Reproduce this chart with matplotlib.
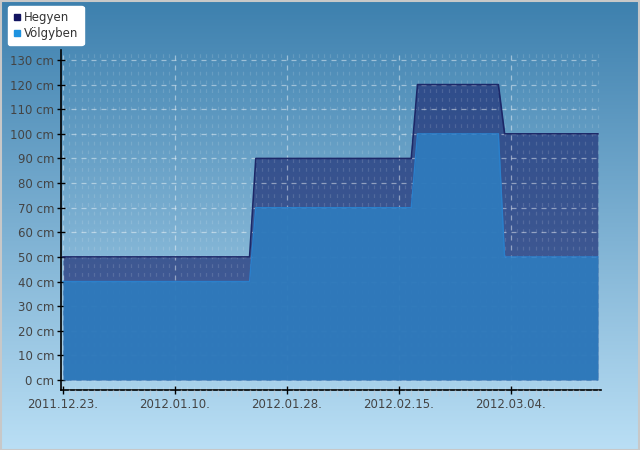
import matplotlib
matplotlib.use("Agg")
import matplotlib.pyplot as plt
import matplotlib.dates as mdates
import numpy as np
import pandas as pd
from matplotlib.patches import Rectangle
from matplotlib.lines import Line2D

# Data (corner points of the step series)
dates = pd.to_datetime(["2011-12-23", "2012-01-22", "2012-01-23", "2012-02-17",
                        "2012-02-18", "2012-03-02", "2012-03-03", "2012-03-18"])
hegyen = [50, 50, 90, 90, 120, 120, 100, 100]
volgyben = [40, 40, 70, 70, 100, 100, 50, 50]
series_names = ["Hegyen", "Völgyben"]
tick_dates = pd.to_datetime(["2011-12-23", "2012-01-10", "2012-01-28", "2012-02-15", "2012-03-04"])
y_ticks = list(range(0, 140, 10))

W, H = 640, 450
fig = plt.figure(figsize=(W / 100, H / 100), dpi=100)

# gradient background
bg = fig.add_axes([0, 0, 1, 1], zorder=-10)
top = np.array([0x3d, 0x80, 0xae]) / 255
bot = np.array([0xba, 0xdf, 0xf5]) / 255
t = np.linspace(0, 1, 256)[:, None]
grad = top[None, :] * (1 - t) + bot[None, :] * t
bg.imshow(grad[:, None, :].repeat(2, axis=1), aspect="auto", extent=[0, 1, 0, 1])
bg.set_axis_off()
bg.add_patch(Rectangle((0.0008, 0.001), 0.998, 0.997, transform=bg.transAxes,
                       fill=False, edgecolor="#c8c8c8", lw=1.5))

ax = fig.add_axes([61 / W, 60 / H, 540 / W, 340 / H])
ax.set_facecolor("none")

x0 = mdates.date2num(dates[0])
ax.set_xlim(x0 - 0.32, x0 + 86.5)
ax.set_ylim(-4.06, 134.06)

ax.fill_between(dates, 0, hegyen, color="#223378", alpha=0.72, lw=0, zorder=2)
ax.plot(dates, hegyen, color="#1c2868", lw=1.2, zorder=3)
ax.fill_between(dates, 0, volgyben, color="#2f7abc", alpha=0.97, lw=0, zorder=4)
ax.plot(dates, volgyben, color="#2a80cc", lw=1.0, zorder=5)

ax.set_yticks(y_ticks)
ax.set_yticklabels([f"{v} cm" for v in y_ticks])
ax.set_xticks(mdates.date2num(tick_dates))
ax.set_xticklabels([d.strftime("%Y.%m.%d.") for d in tick_dates])
ax.xaxis.set_minor_locator(mdates.DayLocator())

for s in ["top", "right"]:
    ax.spines[s].set_visible(False)
for s in ["left", "bottom"]:
    ax.spines[s].set_color("black")
    ax.spines[s].set_linewidth(1.2)

ax.tick_params(axis="both", which="major", direction="inout", length=6, width=1,
               color="black", labelcolor="#444444", labelsize=8.5)
ax.tick_params(axis="x", which="minor", direction="out", length=4, width=1,
               color="#b8cfe0")
ax.tick_params(axis="y", pad=2)
ax.tick_params(axis="x", pad=3)

ax.grid(True, which="major", color="white", alpha=0.45, lw=0.9, ls=(0, (4, 4)), zorder=6)
ax.grid(True, which="minor", axis="x", color="white", alpha=0.13, lw=0.9, ls=(0, (3, 4)), zorder=6)
ax.set_axisbelow(False)

# legend
handles = [Line2D([], [], marker="s", ls="none", color="#121460", markersize=5),
           Line2D([], [], marker="s", ls="none", color="#1e93e0", markersize=5)]
leg = fig.legend(handles, series_names, loc="upper left",
                 bbox_to_anchor=(8 / W, 1 - 6 / H), fontsize=8.5, frameon=True,
                 fancybox=True, handlelength=0.6, handletextpad=0.3,
                 labelspacing=0.2, borderpad=0.45, borderaxespad=0)
leg.get_frame().set_facecolor("white")
leg.get_frame().set_edgecolor("white")
leg.get_frame().set_alpha(1)
for txt in leg.get_texts():
    txt.set_color("#333333")

fig.savefig("out.png", dpi=100)
